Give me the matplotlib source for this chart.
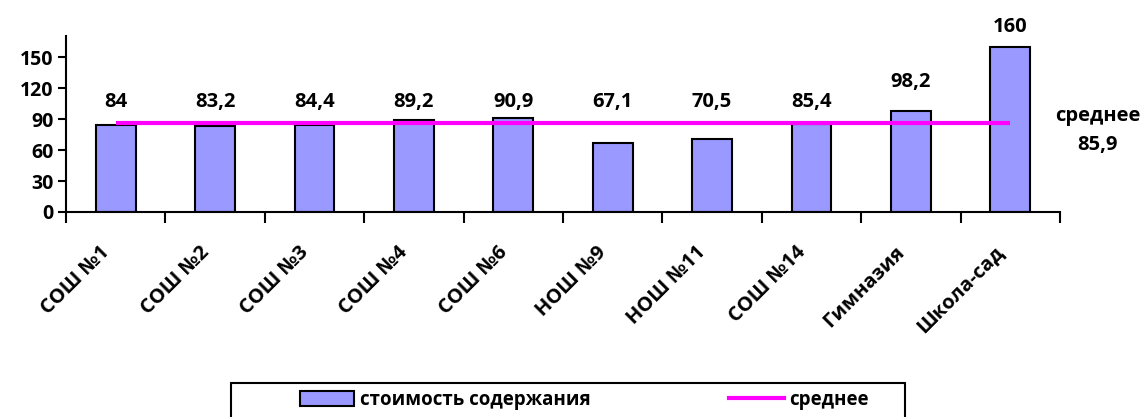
import matplotlib
matplotlib.use("Agg")
import matplotlib.pyplot as plt
from matplotlib.patches import Rectangle, Patch
from matplotlib.lines import Line2D
from matplotlib.transforms import ScaledTranslation
import numpy as np

categories = ["СОШ №1", "СОШ №2", "СОШ №3", "СОШ №4", "СОШ №6",
              "НОШ №9", "НОШ №11", "СОШ №14", "Гимназия", "Школа-сад"]
values = [84, 83.2, 84.4, 89.2, 90.9, 67.1, 70.5, 85.4, 98.2, 160]
value_labels = ["84", "83,2", "84,4", "89,2", "90,9", "67,1", "70,5", "85,4", "98,2", "160"]
mean_value = 85.9
mean_label = "85,9"
yticks = [0, 30, 60, 90, 120, 150]

# label heights (layout positions in data units)
label_y = [106.5, 106.5, 106.5, 106.5, 106.5, 106.5, 106.5, 106.5, 126, 179]

plt.rcParams['font.family'] = ['Open Sans', 'DejaVu Sans']
plt.rcParams['font.weight'] = 'bold'
FS = 14

fig = plt.figure(figsize=(11.45, 4.17), dpi=100)
ax = fig.add_axes([66/1145, 1-212/417, (1060-66)/1145, (212-36)/417])

x = np.arange(len(categories))
ax.bar(x, values, width=0.4, color="#9999FF", edgecolor="black", linewidth=1.5, zorder=2)
ax.plot([x[0], x[-1]], [mean_value, mean_value], color="#FF00FF", linewidth=3, zorder=3,
        solid_capstyle="butt")

for xi, ly, lab in zip(x, label_y, value_labels):
    ax.text(xi, ly, lab, ha="center", va="center", fontsize=14.5, fontweight="bold",
            clip_on=False)

ax.set_xlim(-0.5, len(categories) - 0.5)
ax.set_ylim(0, 170.5)
ax.set_yticks(yticks)
ax.set_yticklabels([str(t) for t in yticks], fontsize=FS, fontweight="bold")
ax.set_xticks(x)
ax.set_xticklabels(categories, rotation=45, ha="right", va="center",
                   rotation_mode="anchor", fontsize=14.5, fontweight="bold")
ax.tick_params(axis="x", which="major", length=0, pad=27)
off = ScaledTranslation(-9/100, 0, fig.dpi_scale_trans)
for lbl in ax.get_xticklabels():
    lbl.set_transform(lbl.get_transform() + off)
ax.set_xticks(np.arange(-0.5, len(categories)), minor=True)
ax.tick_params(axis="x", which="minor", length=8, width=1.5, direction="out")
ax.tick_params(axis="y", length=6, width=1.5, direction="out", pad=3)

for s in ["top", "right"]:
    ax.spines[s].set_visible(False)
for s in ["left", "bottom"]:
    ax.spines[s].set_linewidth(1.5)

# mean annotation
fig.text(1098/1145, 1-116/417, "среднее", ha="center", va="center", fontsize=14.5, fontweight="bold")
fig.text(1098/1145, 1-145/417, mean_label, ha="center", va="center", fontsize=14.5, fontweight="bold")

# legend frame
fig.patches.append(Rectangle((231/1145, -0.02), (905-231)/1145, 0.02 + 1-383/417,
                             transform=fig.transFigure, fill=False, edgecolor="black",
                             linewidth=1.5))
handles = [Patch(facecolor="#9999FF", edgecolor="black", linewidth=1.5),
           Line2D([0], [0], color="#FF00FF", linewidth=3)]
leg = fig.legend(handles, ["стоимость содержания", "среднее"], ncol=2, frameon=False,
                 loc="center left", bbox_to_anchor=(300/1145, 1-400/417),
                 prop={"size": 13.5, "weight": "bold"}, handlelength=2.9, handleheight=0.9,
                 handletextpad=0.3, columnspacing=7.4, borderaxespad=0, borderpad=0)

fig.savefig("out.png", dpi=100)
